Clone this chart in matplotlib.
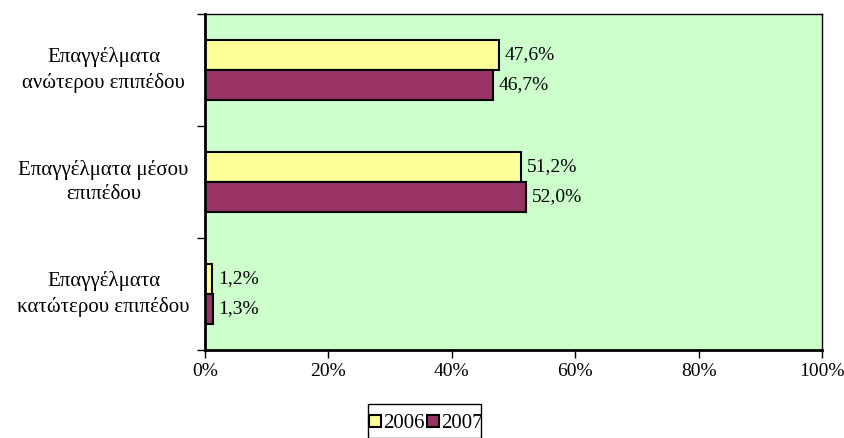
import numpy as np
import matplotlib.pyplot as plt
from matplotlib.patches import Rectangle
from matplotlib.ticker import FuncFormatter

plt.rcParams['font.family'] = ['Liberation Serif', 'DejaVu Serif']

categories = ['Επαγγέλματα\nανώτερου επιπέδου',
              'Επαγγέλματα μέσου\nεπιπέδου',
              'Επαγγέλματα\nκατώτερου επιπέδου']
vals_2006 = [47.6, 51.2, 1.2]
vals_2007 = [46.7, 52.0, 1.3]
years = ['2006', '2007']

W, H = 845, 438
fig = plt.figure(figsize=(W/100, H/100), dpi=100)
ax = fig.add_axes([205/W, 88/H, 617/W, 336/H])
ax.set_facecolor('#CCFFCC')

pos = np.arange(len(categories))[::-1]
h = 0.268
b1 = ax.barh(pos + h/2, vals_2006, height=h, color='#FFFF99',
             edgecolor='black', linewidth=1.5, label=years[0])
b2 = ax.barh(pos - h/2, vals_2007, height=h, color='#993366',
             edgecolor='black', linewidth=1.5, label=years[1])

# value labels just right of each bar
for bars, vals in ((b1, vals_2006), (b2, vals_2007)):
    for bar, v in zip(bars, vals):
        ax.annotate(('%.1f%%' % v).replace('.', ','),
                    xy=(v, bar.get_y() + bar.get_height()/2),
                    xytext=(4, 0), textcoords='offset points',
                    va='center', ha='left', fontsize=14)

ax.set_xlim(0, 100)
ax.set_ylim(-0.5, 2.5)
ax.set_xticks(np.arange(0, 101, 20))
ax.xaxis.set_major_formatter(FuncFormatter(lambda x, p: '%d%%' % x))
ax.set_yticks([-0.5, 0.5, 1.5, 2.5])
ax.set_yticklabels([])
ax.tick_params(axis='x', direction='out', length=6, width=1, labelsize=14, pad=3)
ax.tick_params(axis='y', direction='out', length=6, width=1)

# category names centred in the left margin
for p, c in zip(pos, categories):
    ax.annotate(c, xy=(0, p), xycoords=('axes fraction', 'data'),
                xytext=(-73, 0), textcoords='offset points',
                ha='center', va='center', fontsize=15, linespacing=1.35)

for s in ['left', 'bottom']:
    ax.spines[s].set_linewidth(2)
for s in ['top', 'right']:
    ax.spines[s].set_linewidth(1)

# legend without its own frame, boxed by a plain rectangle
leg = fig.legend(handles=[b1, b2], labels=years, loc='center',
                 bbox_to_anchor=(426/W, 14/H), ncol=2, fontsize=15,
                 frameon=False, handlelength=0.55, handleheight=0.55,
                 handletextpad=0.1, columnspacing=0.15, borderpad=0,
                 borderaxespad=0)
for hnd in leg.legend_handles:
    hnd.set_linewidth(1.5)
fig.patches.append(Rectangle((368/W, 0), 113/W, 34/H, transform=fig.transFigure,
                             fill=False, edgecolor='black', linewidth=1))

fig.savefig('out.png', dpi=100)
